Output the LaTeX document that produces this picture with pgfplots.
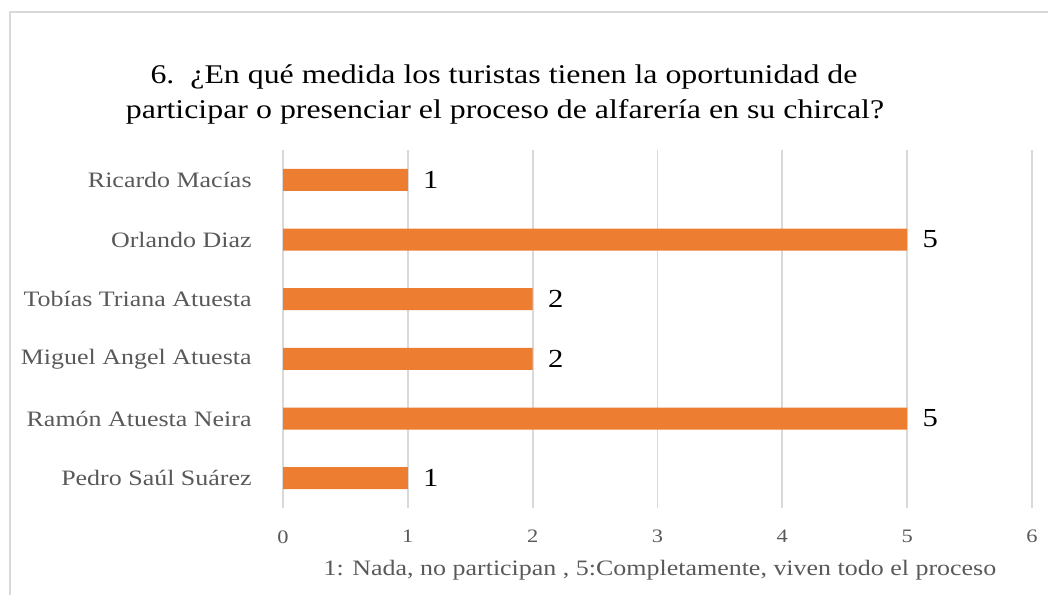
\documentclass[border=0pt]{standalone}
\usepackage{fontspec}
\setmainfont{Liberation Serif}[FakeStretch=1.18]
\usepackage{pgfplots}
\pgfplotsset{compat=1.18}
\definecolor{barorange}{HTML}{ED7D31}
\definecolor{gridgray}{HTML}{D9D9D9}
\definecolor{txtgray}{HTML}{595959}

\begin{document}
\begin{tikzpicture}
\useasboundingbox (0,0) rectangle (524pt,297pt);
% chart frame (cut off at right and bottom in the reference)
\draw[gridgray, line width=0.9pt] (5pt,-2pt) -- (5pt,291pt) -- (526pt,291pt);
% title
\node[anchor=base, inner sep=0pt, font=\fontsize{13.5}{16}\selectfont] at (252pt,255pt)
  {6.\ \ ¿En qué medida los turistas tienen la oportunidad de};
\node[anchor=base, inner sep=0pt, font=\fontsize{13.5}{16}\selectfont] at (252.5pt,237.5pt)
  {participar\hspace{0.3em}o presenciar el proceso de alfarería en su chircal?};
\begin{axis}[
  at={(141.5pt,43pt)}, anchor=south west,
  scale only axis, width=374.5pt, height=179pt,
  xbar, bar width=11pt,
  xmin=0, xmax=6, ymin=-0.5, ymax=5.5,
  xtick={0,1,2,3,4,5,6}, ytick={0,1,2,3,4,5},
  yticklabels={Pedro Saúl Suárez, Ramón Atuesta Neira, Miguel Angel Atuesta, Tobías Triana Atuesta, Orlando Diaz, Ricardo Macías},
  xmajorgrids, grid style={gridgray, line width=0.9pt},
  axis line style={draw=none},
  major tick length=0pt,
  /pgf/number format/assume math mode=true,
  xticklabel style={font=\fontsize{9.5}{11}\selectfont, text=txtgray, inner sep=0pt, anchor=north, yshift=-11pt},
  yticklabel style={font=\fontsize{11}{13}\selectfont, text=txtgray, inner sep=0pt, anchor=east, xshift=-15.5pt},
  xlabel={1: Nada, no participan , 5:Completamente, viven todo el proceso},
  xlabel style={font=\fontsize{11}{13}\selectfont, text=txtgray, at={(axis description cs:0.5,0)}, anchor=north, inner sep=0pt, yshift=-26pt, xshift=1.2pt},
  nodes near coords,
  nodes near coords style={font=\fontsize{13}{15}\selectfont, text=black, anchor=west, inner sep=0pt, xshift=7.5pt},
]
\addplot[fill=barorange, draw=none] coordinates {
  (1,0) (5,1) (2,2) (2,3) (5,4) (1,5)
};
\end{axis}
\end{tikzpicture}
\end{document}
